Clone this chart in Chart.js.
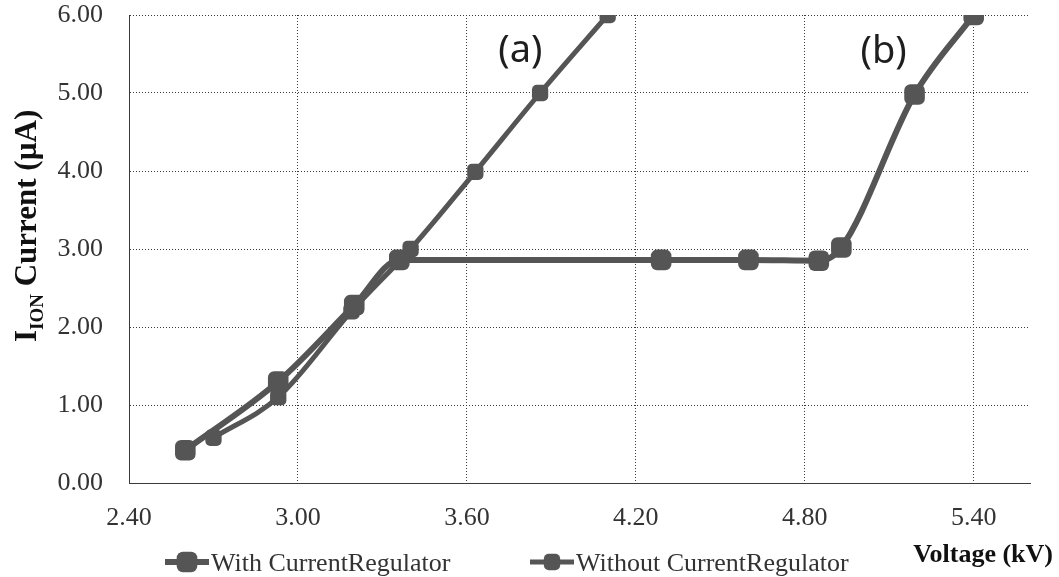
<!DOCTYPE html>
<html>
<head>
<meta charset="utf-8">
<script src="https://cdn.jsdelivr.net/npm/chart.js@4.4.0/dist/chart.umd.min.js"></script>
<style>
html, body { margin: 0; padding: 0; background: #fff; }
#container { width: 1059px; height: 577px; }
</style>
</head>
<body>
<div id="container"><canvas id="canvas" width="1059" height="577"></canvas></div>
<script>
// values
var withVoltage = [2.60, 2.93, 3.20, 3.36, 4.29, 4.60, 4.85, 4.93, 5.19, 5.40];
var withCurrent = [0.42, 1.30, 2.28, 2.86, 2.86, 2.86, 2.85, 3.02, 4.98, 6.00];
var withoutVoltage = [2.70, 2.93, 3.19, 3.40, 3.63, 3.86, 4.10];
var withoutCurrent = [0.58, 1.10, 2.20, 3.00, 3.99, 5.00, 6.00];
var seriesNames = ['With CurrentRegulator', 'Without CurrentRegulator'];
var xTicks = [2.4, 3.0, 3.6, 4.2, 4.8, 5.4];
var notes = ['(a)', '(b)'];
var noteVoltage = [3.79, 5.08];
var noteCurrent = [5.53, 5.52];

var ink = '#555555';
var gridInk = '#3a3a3a';
var serif = '"Liberation Serif", "Times New Roman", serif';

function toPoints(xs, ys) {
    return xs.map(function (v, i) { return {x: v, y: ys[i]}; });
}

function marker(ctx, x, y, r) {
    if (Chart.helpers && Chart.helpers.drawPoint) {
        Chart.helpers.drawPoint(ctx, {pointStyle: 'rectRounded', radius: r, rotation: 0, borderWidth: 0}, x, y);
    } else {
        ctx.fillRect(x - r * 0.8, y - r * 0.8, r * 1.6, r * 1.6);
    }
}

/**
 * axis titles, notes and legend drawn on top of the chart
 */
var extras = {
    id: 'extras',
    afterDraw: function (chart) {
        var ctx = chart.ctx;
        var xs = chart.scales.x, ys = chart.scales.y;
        ctx.save();

        // (a) / (b)
        ctx.fillStyle = '#1e1e1e';
        ctx.font = '38px "Noto Sans", "Open Sans", sans-serif';
        ctx.textAlign = 'center';
        ctx.textBaseline = 'middle';
        notes.forEach(function (t, i) {
            ctx.fillText(t, xs.getPixelForValue(noteVoltage[i]), ys.getPixelForValue(noteCurrent[i]));
        });

        // y title with subscript
        ctx.fillStyle = '#111';
        ctx.textAlign = 'left';
        ctx.textBaseline = 'alphabetic';
        ctx.translate(36, 342);
        ctx.rotate(-Math.PI / 2);
        ctx.font = 'bold 31px ' + serif;
        ctx.fillText('I', 0, 0);
        var w = ctx.measureText('I').width;
        ctx.font = 'bold 19px ' + serif;
        ctx.fillText('ION', w, 7);
        w += ctx.measureText('ION').width;
        ctx.font = 'bold 31px ' + serif;
        ctx.fillText(' Current (\u00b5A)', w, 0);
        ctx.setTransform(1, 0, 0, 1, 0, 0);

        // x title
        ctx.font = 'bold 26px ' + serif;
        ctx.textAlign = 'right';
        ctx.fillText('Voltage (kV)', 1053, 562);

        // legend
        var legendX = [165, 530];
        var radii = [12, 9.5];
        var widths = [6, 5];
        ctx.textAlign = 'left';
        seriesNames.forEach(function (name, i) {
            var x0 = legendX[i], y0 = 562;
            ctx.strokeStyle = ink;
            ctx.fillStyle = ink;
            ctx.lineWidth = widths[i];
            ctx.beginPath();
            ctx.moveTo(x0, y0);
            ctx.lineTo(x0 + 44, y0);
            ctx.stroke();
            marker(ctx, x0 + 22, y0, radii[i]);
            ctx.fillStyle = '#333';
            ctx.font = '26px ' + serif;
            ctx.fillText(name, x0 + 46, 571);
        });
        ctx.restore();
    }
};

var config = {
    type: 'line',
    data: {
        datasets: [{
            label: seriesNames[0],
            data: toPoints(withVoltage, withCurrent),
            borderColor: ink,
            backgroundColor: ink,
            borderWidth: 6,
            pointStyle: 'rectRounded',
            pointRadius: 12,
            pointBorderWidth: 0,
            cubicInterpolationMode: 'monotone'
        }, {
            label: seriesNames[1],
            data: toPoints(withoutVoltage, withoutCurrent),
            borderColor: ink,
            backgroundColor: ink,
            borderWidth: 5,
            pointStyle: 'rectRounded',
            pointRadius: 9.5,
            pointBorderWidth: 0,
            cubicInterpolationMode: 'monotone'
        }]
    },
    options: {
        responsive: false,
        animation: false,
        layout: {padding: {top: 15, right: 29, bottom: 0, left: 0}},
        plugins: {
            legend: {display: false},
            tooltip: {enabled: false}
        },
        scales: {
            x: {
                type: 'linear',
                min: 2.4,
                max: 5.6,
                afterBuildTicks: function (axis) {
                    axis.ticks = xTicks.map(function (v) { return {value: v}; });
                },
                afterFit: function (axis) {
                    axis.height = 94;
                    axis.paddingLeft = 0;
                    axis.paddingRight = 0;
                },
                grid: {color: gridInk, lineWidth: 1, drawTicks: false},
                border: {display: true, color: gridInk, width: 1, dash: [1, 2]},
                ticks: {
                    padding: 20,
                    color: '#333',
                    font: {family: serif, size: 26},
                    maxRotation: 0,
                    callback: function (v) { return Number(v).toFixed(2); }
                }
            },
            y: {
                min: 0,
                max: 6,
                afterFit: function (axis) {
                    axis.width = 129;
                    axis.paddingTop = 0;
                    axis.paddingBottom = 0;
                },
                grid: {color: gridInk, lineWidth: 1, drawTicks: false},
                border: {display: true, color: gridInk, width: 1, dash: [1, 2]},
                ticks: {
                    stepSize: 1,
                    padding: 26,
                    color: '#333',
                    font: {family: serif, size: 26, lineHeight: 1.1},
                    callback: function (v) { return Number(v).toFixed(2); }
                }
            }
        }
    },
    plugins: [extras]
};

var context = document.getElementById('canvas').getContext('2d');
window.myLine = new Chart(context, config);
</script>
</body>
</html>
